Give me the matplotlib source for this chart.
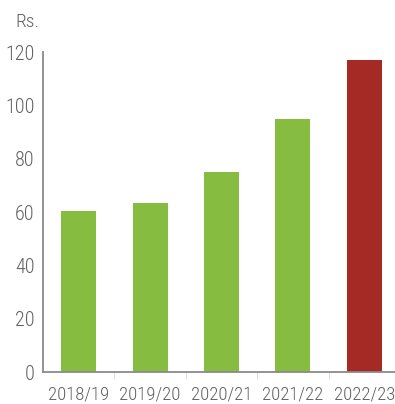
import numpy as np
import matplotlib.pyplot as plt

years = ["2018/19", "2019/20", "2020/21", "2021/22", "2022/23"]
values = [60.5, 63.5, 75, 95, 117]
colors = ["#86bc40", "#86bc40", "#86bc40", "#86bc40", "#a52a25"]
yticks = [0, 20, 40, 60, 80, 100, 120]

plt.rcParams['font.family'] = ['Roboto Condensed', 'Liberation Sans Narrow', 'Liberation Sans']
plt.rcParams['font.weight'] = 'light'
txt = "#606060"

fig = plt.figure(figsize=(3.95, 4.04), dpi=100)
ax = fig.add_axes([43 / 395, 32 / 404, 1 - 43 / 395, 320 / 404])

x = np.arange(len(years))
ax.bar(x, values, width=0.49, color=colors, zorder=2)

ax.set_ylim(0, 120)
ax.set_xlim(-0.5, 4.43)
ax.set_yticks(yticks)
ax.set_yticklabels([str(v) for v in yticks], fontsize=14.5, color=txt)
ax.tick_params(axis='y', length=0, pad=6)
ax.set_xticks(x)
ax.set_xticklabels(years, fontsize=13.5, color=txt)
ax.tick_params(axis='x', length=0, pad=10)
ax.set_xticks(x[:-1] + 0.5, minor=True)
ax.tick_params(axis='x', which='minor', length=5, color="#dddddd", width=0.8)

for s in ['top', 'right']:
    ax.spines[s].set_visible(False)
ax.spines['left'].set_color("#8a8a8a")
ax.spines['bottom'].set_color("#8a8a8a")
ax.spines['left'].set_linewidth(1.3)
ax.spines['bottom'].set_linewidth(1.3)

fig.text(15 / 395, 1 - 22 / 404, "Rs.", fontsize=14, color=txt, va='center', ha='left')

plt.savefig('out.png', dpi=100)
